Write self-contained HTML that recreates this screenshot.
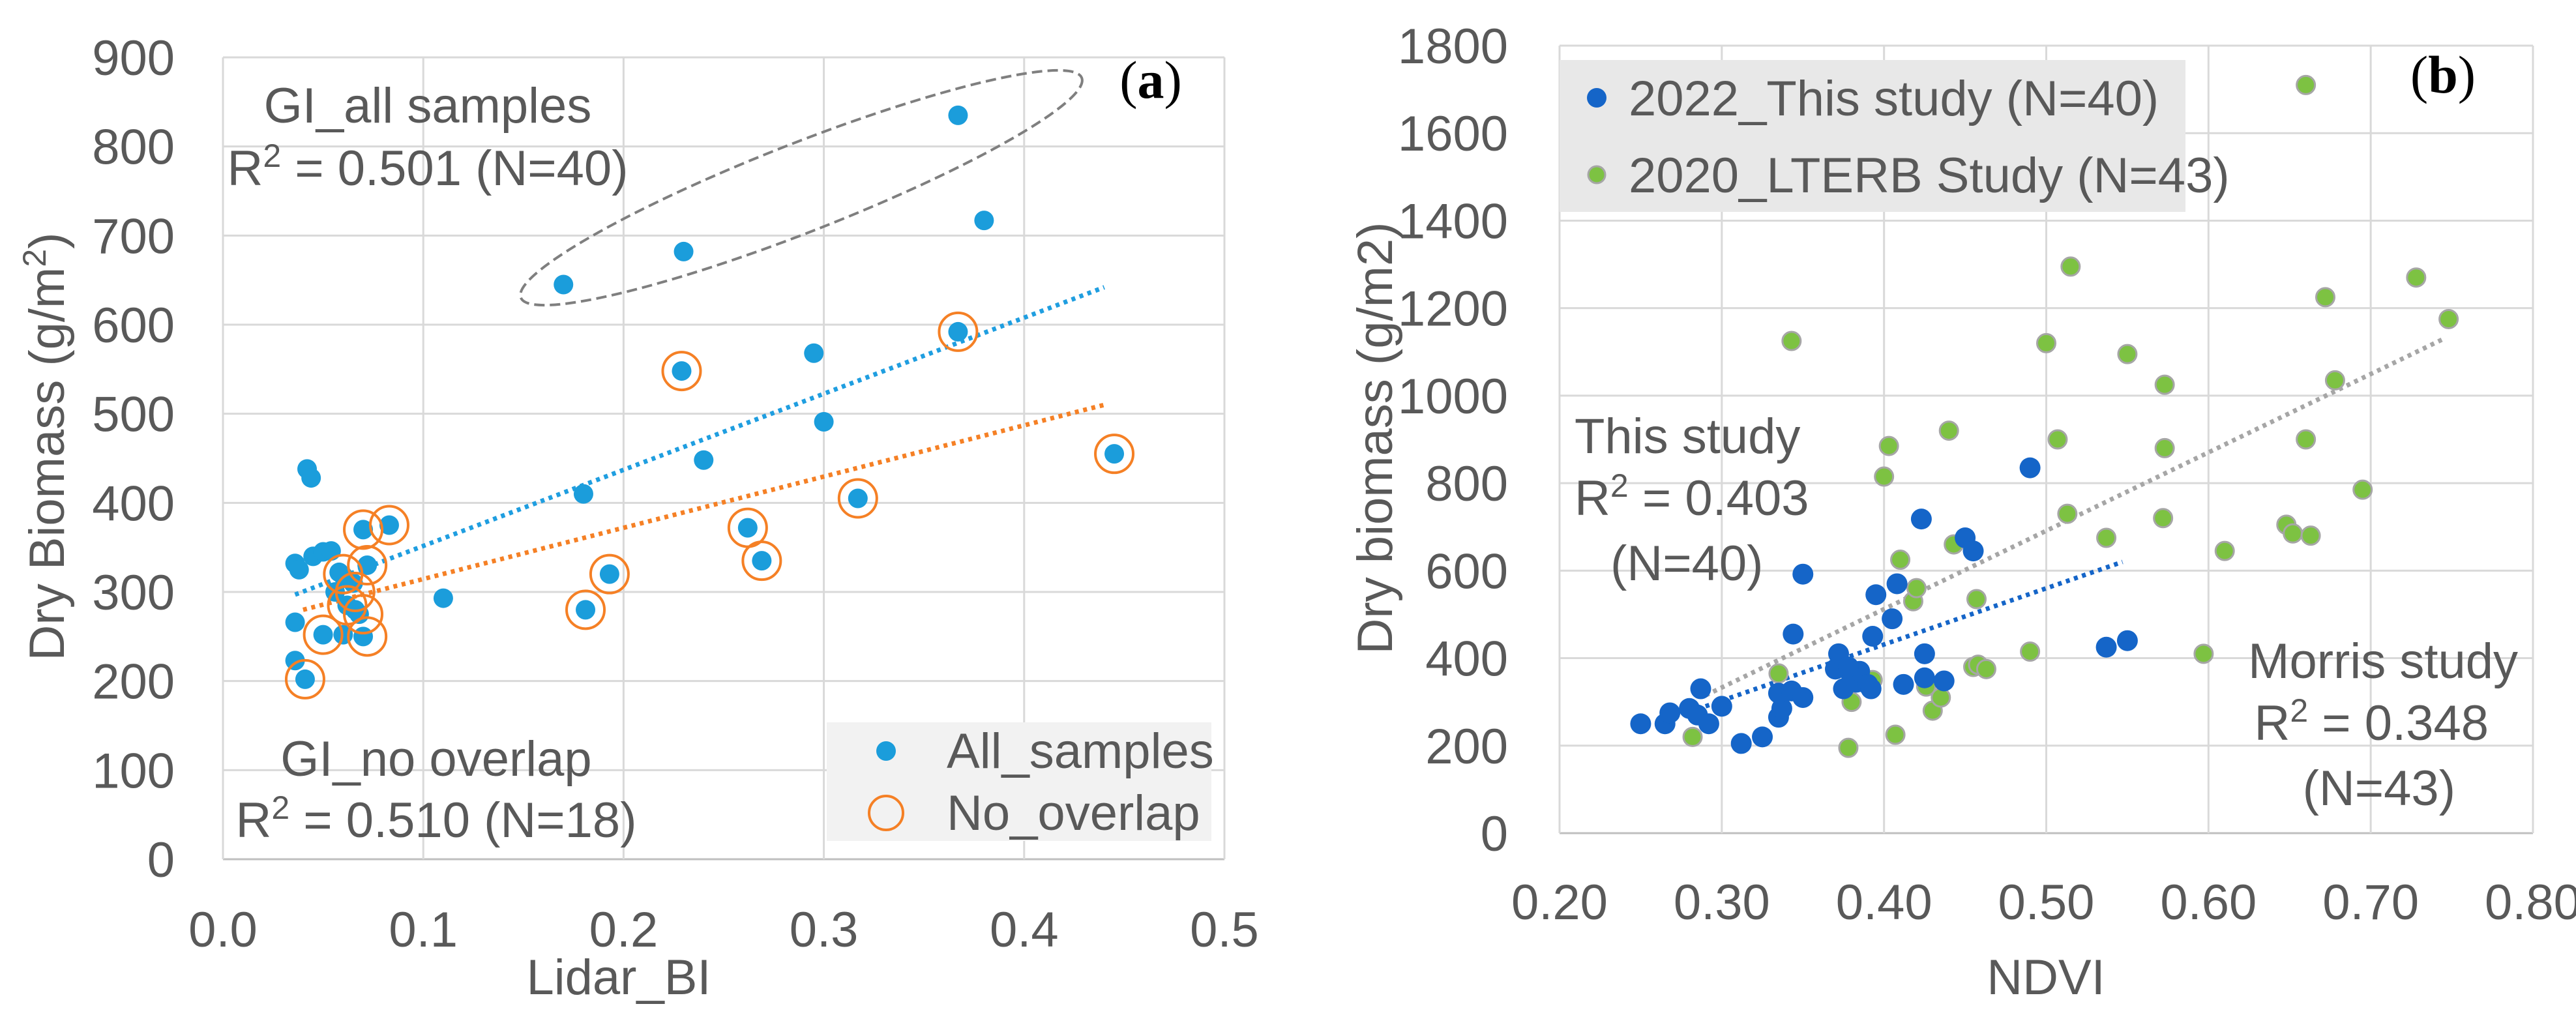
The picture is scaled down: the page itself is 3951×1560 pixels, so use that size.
<!DOCTYPE html>
<html><head><meta charset="utf-8"><style>
html,body{margin:0;padding:0;background:#fff;}
svg{display:block;font-family:"Liberation Sans",sans-serif;}
</style></head><body>
<svg id="svg" width="3951" height="1560" viewBox="0 0 3951 1560" xmlns="http://www.w3.org/2000/svg">
<g id="ga"></g>
<g id="gb"></g>
</svg>
<script>
// Chart A data
const aTicksX = [0.0,0.1,0.2,0.3,0.4,0.5];
const aTickLabelsX = ["0.0","0.1","0.2","0.3","0.4","0.5"];
const aTicksY = [0,100,200,300,400,500,600,700,800,900];
const aAllX = [0.17,0.23,0.367,0.38,0.367,0.229,0.295,0.3,0.24,0.18,0.317,0.262,0.269,0.193,0.181,0.445,0.11,0.042,0.044,0.083,0.07,0.072,0.036,0.038,0.045,0.05,0.054,0.058,0.06,0.065,0.062,0.066,0.068,0.036,0.05,0.06,0.07,0.036,0.041,0.056];
const aAllY = [645,682,835,717,592,548,568,491,448,410,405,372,335,320,280,455,293,438,428,375,370,330,332,325,340,345,346,322,318,310,285,280,275,266,252,252,250,223,202,300];
const aNoX = [0.229,0.367,0.445,0.317,0.262,0.269,0.193,0.181,0.083,0.07,0.072,0.06,0.062,0.07,0.05,0.072,0.041,0.066];
const aNoY = [548,592,455,405,372,335,320,280,375,370,330,320,285,275,252,250,202,300];
const aTrendAllX = [0.036,0.44];
const aTrendAllY = [297,642];
const aTrendNoX = [0.04,0.44];
const aTrendNoY = [280,510];

// Chart B data
const bTicksX = [0.2,0.3,0.4,0.5,0.6,0.7,0.8];
const bTickLabelsX = ["0.20","0.30","0.40","0.50","0.60","0.70","0.80"];
const bTicksY = [0,200,400,600,800,1000,1200,1400,1600,1800];
const b22X = [0.25,0.265,0.268,0.28,0.285,0.287,0.292,0.3,0.312,0.325,0.335,0.337,0.335,0.343,0.344,0.35,0.35,0.37,0.372,0.375,0.38,0.383,0.385,0.39,0.392,0.393,0.395,0.405,0.408,0.412,0.423,0.425,0.425,0.437,0.45,0.455,0.49,0.537,0.55,0.378];
const b22Y = [250,250,275,285,270,330,250,290,205,220,265,285,320,325,455,310,592,375,410,330,360,345,370,340,330,450,545,490,570,340,718,410,355,348,675,645,835,425,440,380];
const b20X = [0.282,0.335,0.343,0.38,0.378,0.393,0.403,0.4,0.407,0.41,0.418,0.42,0.426,0.43,0.435,0.44,0.443,0.455,0.457,0.458,0.463,0.49,0.5,0.507,0.513,0.515,0.537,0.55,0.573,0.573,0.572,0.597,0.61,0.648,0.652,0.66,0.66,0.663,0.672,0.678,0.695,0.728,0.748];
const b20Y = [220,365,1125,300,195,350,885,815,225,625,530,560,335,280,310,920,660,380,535,385,375,415,1120,900,730,1295,675,1095,1025,880,720,410,645,705,685,1710,900,680,1225,1035,785,1270,1175];
const bTrend22X = [0.29,0.547];
const bTrend22Y = [290,620];
const bTrend20X = [0.29,0.745];
const bTrend20Y = [315,1130];

const NS = "http://www.w3.org/2000/svg";
function mk(parent, tag, attrs, text){
  const e = document.createElementNS(NS, tag);
  for (const k in attrs) e.setAttribute(k, attrs[k]);
  if (text !== undefined) e.textContent = text;
  parent.appendChild(e);
  return e;
}
const GRAY = "#595959";

// ---------- Chart A ----------
const ga = document.getElementById('ga');
const ax = v => 342 + (v - 0) / 0.5 * (1878 - 342);
const ay = v => 1318 - v / 900 * (1318 - 88);
aTicksY.forEach(t => {
  const l = mk(ga, 'line', {x1: ax(0), x2: ax(0.5), y1: ay(t), y2: ay(t), stroke: t === 0 ? '#bfbfbf' : '#d9d9d9', 'stroke-width': 3});
  
  
  const tx = mk(ga, 'text', {x: 268, y: ay(t) + 27, 'text-anchor': 'end', 'font-size': 76, fill: GRAY}, String(t));
  
  
});
aTicksX.forEach((t, i) => {
  const l = mk(ga, 'line', {x1: ax(t), x2: ax(t), y1: ay(0), y2: ay(900), stroke: '#d9d9d9', 'stroke-width': 3});
  
  
  const tx = mk(ga, 'text', {x: ax(t), y: 1452, 'text-anchor': 'middle', 'font-size': 76, fill: GRAY}, aTickLabelsX[i]);
  
  
});
let t;
t = mk(ga, 'text', {x: 949, y: 1525, 'text-anchor': 'middle', 'font-size': 76, fill: GRAY}, 'Lidar_BI');
 
t = mk(ga, 'text', {x: 0, y: 0, 'text-anchor': 'middle', 'font-size': 76, fill: GRAY, transform: 'translate(98,685) rotate(-90)'});
t.innerHTML = 'Dry Biomass (g/m<tspan dy="-28" font-size="50">2</tspan><tspan dy="28">)</tspan>';
 

// ellipse
t = mk(ga, 'ellipse', {cx: 1229, cy: 288, rx: 462, ry: 68, fill: 'none', stroke: '#7f7f7f', 'stroke-width': 4, 'stroke-dasharray': '16 8', transform: 'rotate(-21.4 1229 288)'});
 

// trendlines
function trend(g, xs, ys, fx, fy, color, name){
  const l = mk(g, 'line', {x1: fx(xs[0]), y1: fy(ys[0]), x2: fx(xs[1]), y2: fy(ys[1]), stroke: color, 'stroke-width': 7, 'stroke-dasharray': '6 7'});
  
  
}
trend(ga, aTrendAllX, aTrendAllY, ax, ay, '#1f9ee0', 'a-trendline-all');
trend(ga, aTrendNoX, aTrendNoY, ax, ay, '#f58025', 'a-trendline-no-overlap');

aAllX.forEach((x, i) => {
  const c = mk(ga, 'circle', {cx: ax(x), cy: ay(aAllY[i]), r: 15, fill: '#1b9ddb'});
  
  
});
aNoX.forEach((x, i) => {
  const c = mk(ga, 'circle', {cx: ax(x), cy: ay(aNoY[i]), r: 29, fill: 'none', stroke: '#f58025', 'stroke-width': 4});
  
  
});

// annotations A
t = mk(ga, 'text', {x: 656, y: 188, 'text-anchor': 'middle', 'font-size': 76, fill: GRAY}, 'GI_all samples');
 
t = mk(ga, 'text', {x: 656, y: 284, 'text-anchor': 'middle', 'font-size': 76, fill: GRAY});
t.innerHTML = 'R<tspan dy="-28" font-size="50">2</tspan><tspan dy="28"> = 0.501 (N=40)</tspan>';
 
t = mk(ga, 'text', {x: 669, y: 1190, 'text-anchor': 'middle', 'font-size': 76, fill: GRAY}, 'GI_no overlap');
 
t = mk(ga, 'text', {x: 669, y: 1284, 'text-anchor': 'middle', 'font-size': 76, fill: GRAY});
t.innerHTML = 'R<tspan dy="-28" font-size="50">2</tspan><tspan dy="28"> = 0.510 (N=18)</tspan>';
 
t = mk(ga, 'text', {x: 1765, y: 150, 'text-anchor': 'middle', 'font-size': 82, fill: '#000', 'font-family': '"Liberation Serif",serif'});
t.innerHTML = '(<tspan font-weight="bold">a</tspan>)';
 

// legend A
const la = mk(ga, 'g', {});
 
mk(la, 'rect', {x: 1268, y: 1108, width: 590, height: 182, fill: '#f2f2f2'});
t = mk(la, 'circle', {cx: 1359, cy: 1152, r: 15, fill: '#1b9ddb'});
 
t = mk(la, 'text', {x: 1452, y: 1178, 'font-size': 76, fill: GRAY}, 'All_samples');
 
t = mk(la, 'circle', {cx: 1359, cy: 1247, r: 26, fill: 'none', stroke: '#f58025', 'stroke-width': 4});
 
t = mk(la, 'text', {x: 1452, y: 1273, 'font-size': 76, fill: GRAY}, 'No_overlap');
 

// ---------- Chart B ----------
const gb = document.getElementById('gb');
const bx = v => 2392 + (v - 0.2) / 0.6 * (3885 - 2392);
const by = v => 1278 - v / 1800 * (1278 - 70);
bTicksY.forEach(tk => {
  const l = mk(gb, 'line', {x1: bx(0.2), x2: bx(0.8), y1: by(tk), y2: by(tk), stroke: tk === 0 ? '#bfbfbf' : '#d9d9d9', 'stroke-width': 3});
  
  
  const tx = mk(gb, 'text', {x: 2313, y: by(tk) + 27, 'text-anchor': 'end', 'font-size': 76, fill: GRAY}, String(tk));
  
  
});
bTicksX.forEach((tk, i) => {
  const l = mk(gb, 'line', {x1: bx(tk), x2: bx(tk), y1: by(0), y2: by(1800), stroke: '#d9d9d9', 'stroke-width': 3});
  
  
  const tx = mk(gb, 'text', {x: bx(tk), y: 1410, 'text-anchor': 'middle', 'font-size': 76, fill: GRAY}, bTickLabelsX[i]);
  
  
});
t = mk(gb, 'text', {x: 3138, y: 1525, 'text-anchor': 'middle', 'font-size': 76, fill: GRAY}, 'NDVI');
 
t = mk(gb, 'text', {x: 0, y: 0, 'text-anchor': 'middle', 'font-size': 76, fill: GRAY, transform: 'translate(2135,672) rotate(-90)'}, 'Dry biomass (g/m2)');
 

trend(gb, bTrend20X, bTrend20Y, bx, by, '#a6a6a6', 'b-trendline-2020');
trend(gb, bTrend22X, bTrend22Y, bx, by, '#1565c8', 'b-trendline-2022');

b20X.forEach((x, i) => {
  const c = mk(gb, 'circle', {cx: bx(x), cy: by(b20Y[i]), r: 14, fill: '#7dc242', stroke: '#a6a6a6', 'stroke-width': 3});
  
  
});
b22X.forEach((x, i) => {
  const c = mk(gb, 'circle', {cx: bx(x), cy: by(b22Y[i]), r: 16, fill: '#1565c8'});
  
  
});

// legend B
const lb = mk(gb, 'g', {});
 
mk(lb, 'rect', {x: 2392, y: 92, width: 960, height: 233, fill: '#e8e8e8'});
t = mk(lb, 'circle', {cx: 2449, cy: 150, r: 15, fill: '#1565c8'});
 
t = mk(lb, 'text', {x: 2498, y: 177, 'font-size': 76, fill: GRAY}, '2022_This study (N=40)');
 
t = mk(lb, 'circle', {cx: 2449, cy: 268, r: 13, fill: '#7dc242', stroke: '#a6a6a6', 'stroke-width': 3});
 
t = mk(lb, 'text', {x: 2498, y: 295, 'font-size': 76, fill: GRAY}, '2020_LTERB Study (N=43)');
 

// annotations B
t = mk(gb, 'text', {x: 2415, y: 695, 'font-size': 76, fill: GRAY}, 'This study');
 
t = mk(gb, 'text', {x: 2415, y: 790, 'font-size': 76, fill: GRAY});
t.innerHTML = 'R<tspan dy="-28" font-size="50">2</tspan><tspan dy="28"> = 0.403</tspan>';
 
t = mk(gb, 'text', {x: 2470, y: 890, 'font-size': 76, fill: GRAY}, '(N=40)');
 
t = mk(gb, 'text', {x: 3862, y: 1040, 'text-anchor': 'end', 'font-size': 76, fill: GRAY}, 'Morris study');
 
t = mk(gb, 'text', {x: 3817, y: 1135, 'text-anchor': 'end', 'font-size': 76, fill: GRAY});
t.innerHTML = 'R<tspan dy="-28" font-size="50">2</tspan><tspan dy="28"> = 0.348</tspan>';
 
t = mk(gb, 'text', {x: 3766, y: 1235, 'text-anchor': 'end', 'font-size': 76, fill: GRAY}, '(N=43)');
 
t = mk(gb, 'text', {x: 3747, y: 142, 'text-anchor': 'middle', 'font-size': 82, fill: '#000', 'font-family': '"Liberation Serif",serif'});
t.innerHTML = '(<tspan font-weight="bold">b</tspan>)';
 
</script>
</body></html>
